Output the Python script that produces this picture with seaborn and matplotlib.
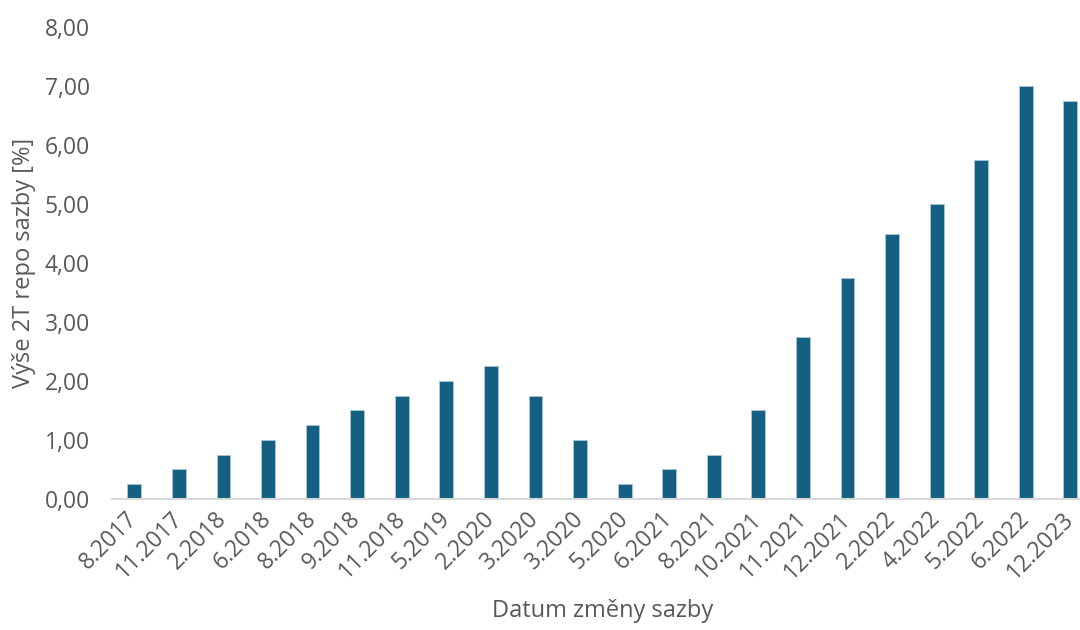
import matplotlib
matplotlib.use('Agg')
import matplotlib.pyplot as plt
import seaborn as sns
import pandas as pd

# data
datumy = ['8.2017', '11.2017', '2.2018', '6.2018', '8.2018', '9.2018', '11.2018',
          '5.2019', '2.2020', '3.2020', '3.2020 ', '5.2020', '6.2021', '8.2021',
          '10.2021', '11.2021', '12.2021', '2.2022', '4.2022', '5.2022', '6.2022',
          '12.2023']
sazby = [0.25, 0.50, 0.75, 1.00, 1.25, 1.50, 1.75, 2.00, 2.25, 1.75, 1.00, 0.25,
         0.50, 0.75, 1.50, 2.75, 3.75, 4.50, 5.00, 5.75, 7.00, 6.75]
y_ticks = [0, 1, 2, 3, 4, 5, 6, 7, 8]

df = pd.DataFrame({'datum': datumy, 'sazba': sazby})

sns.set_style('white')
plt.rcParams['font.family'] = ['Open Sans', 'DejaVu Sans']
text_col = '#595959'

fig = plt.figure(figsize=(10.8, 6.3), dpi=100)
ax = fig.add_axes([0.1037, 0.208, 0.908, 0.749])

sns.barplot(data=df, x='datum', y='sazba', color='#156082', width=0.31,
            saturation=1, edgecolor='#a9c6d8', linewidth=0.6, ax=ax)

ax.set_ylim(0, 8)
ax.set_xlim(-0.5, len(datumy) - 0.5)
ax.set_yticks(y_ticks)
ax.set_yticklabels([f'{v:.2f}'.replace('.', ',') for v in y_ticks])
ax.set_xticks(range(len(datumy)))
ax.set_xticklabels([d.strip() for d in datumy], rotation=45, ha='right',
                   va='center', rotation_mode='anchor')

ax.tick_params(axis='both', colors=text_col, labelsize=16.5, length=0)
ax.tick_params(axis='y', pad=16)
ax.tick_params(axis='x', pad=12)

for s in ['top', 'right', 'left']:
    ax.spines[s].set_visible(False)
ax.spines['bottom'].set_color('#d9d9d9')
ax.spines['bottom'].set_linewidth(1.5)

ax.set_xlabel('Datum změny sazby', color=text_col, fontsize=17, labelpad=11)
ax.set_ylabel('Výše 2T repo sazby [%]', color=text_col, fontsize=17, labelpad=6)

fig.savefig('out.png', dpi=100)
